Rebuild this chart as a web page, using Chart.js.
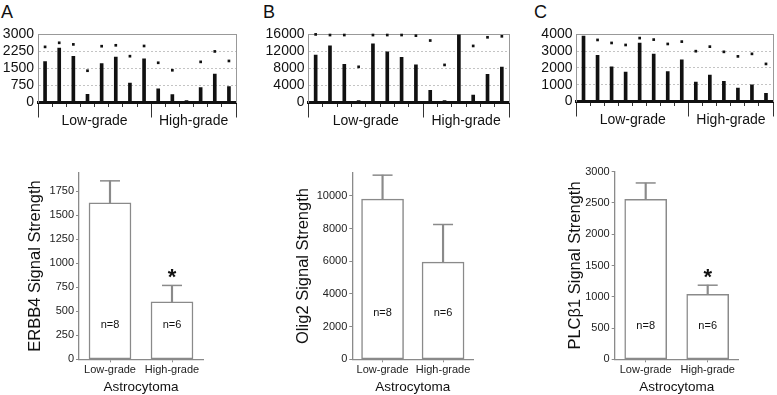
<!DOCTYPE html>
<html><head><meta charset="utf-8">
<script src="https://cdn.jsdelivr.net/npm/chart.js@4.4.0/dist/chart.umd.min.js"></script>
<style>
html,body{margin:0;padding:0;background:#fff;}
body{width:777px;height:395px;position:relative;overflow:hidden;font-family:'Liberation Sans',Arial,sans-serif;}
canvas{position:absolute;}
.lbl{position:absolute;font-size:18px;line-height:18px;color:#111;}
</style></head><body>
<div class="lbl" style="left:1px;top:3px">A</div>
<div class="lbl" style="left:263px;top:3px">B</div>
<div class="lbl" style="left:534px;top:3px">C</div>
<canvas id="topA"></canvas>
<canvas id="topB"></canvas>
<canvas id="topC"></canvas>
<canvas id="botA"></canvas>
<canvas id="botB"></canvas>
<canvas id="botC"></canvas>
<script>
// ---- data ----
const samples = ['1','2','3','4','5','6','7','8','9','10','11','12','13','14'];
const lowGradeCount = 8;
const groupLabels = ['Low-grade', 'High-grade'];

const erbb4Signal = [1800, 2400, 2030, 360, 1720, 2000, 860, 1920, 600, 350, 90, 660, 1250, 700];
const erbb4Dots   = [2450, 2630, 2560, 1400, 2480, 2520, 2040, 2490, 1750, 1420, null, 1790, 2250, 1830];
const erbb4Ticks  = [0, 750, 1500, 2250, 3000];

const olig2Signal = [11160, 13290, 8990, 450, 13810, 11930, 10640, 8830, 2870, 450, 16000, 1740, 6640, 8310];
const olig2Dots   = [16000, 15850, 15850, 8380, 15850, 15850, 15850, 15700, 14560, 8830, null, 13290, 15320, 15550];
const olig2Ticks  = [0, 4000, 8000, 12000, 16000];

const plcSignal = [3900, 2750, 2060, 1760, 3490, 2820, 1780, 2490, 1160, 1570, 1200, 800, 1000, 490];
const plcDots   = [null, 3670, 3490, 3370, 3780, 3690, 3430, 3570, 3000, 3270, 2960, 2690, 2840, 2240];
const plcTicks  = [0, 1000, 2000, 3000, 4000];

const gradeCategories = ['Low-grade', 'High-grade'];
const sampleCounts = [8, 6];
const erbb4Mean = [1630, 600];
const erbb4ErrTop = [1860, 770];
const erbb4Significant = [false, true];
const erbb4BarTicks = [0, 250, 500, 750, 1000, 1250, 1500, 1750];
const olig2Mean = [9800, 5950];
const olig2ErrTop = [11270, 8250];
const olig2Significant = [false, false];
const olig2BarTicks = [0, 2000, 4000, 6000, 8000, 10000];
const plcMean = [2560, 1040];
const plcErrTop = [2820, 1185];
const plcSignificant = [false, true];
const plcBarTicks = [0, 500, 1000, 1500, 2000, 2500, 3000];

// ---- drawing ----
const FAM = "'Liberation Sans', Arial, sans-serif";
Chart.defaults.font.family = FAM;

function place(id, L, T, W, H) {
  const c = document.getElementById(id);
  c.width = W; c.height = H;
  c.style.left = L + 'px'; c.style.top = T + 'px';
  c.style.width = W + 'px'; c.style.height = H + 'px';
  return c;
}

function topChart(id, box, area, values, dots, ticks) {
  const c = place(id, box.L, box.T, box.W, box.H);
  const yMax = ticks[ticks.length - 1];
  const half = (area.r - area.l) / samples.length / 2;
  new Chart(c, {
    type: 'bar',
    data: {
      labels: samples,
      datasets: [
        { type: 'bar', data: values, backgroundColor: '#111', barThickness: 3, order: 2 },
        { type: 'line', data: dots, showLine: false, pointStyle: 'rect', pointRadius: 1.9,
          pointBackgroundColor: '#111', pointBorderWidth: 0, clip: false, order: 1 }
      ]
    },
    options: {
      responsive: false, animation: false, events: [],
      layout: { padding: { top: area.t - box.T, right: box.L + box.W - area.r, left: 0, bottom: 0 } },
      plugins: { legend: { display: false }, tooltip: { enabled: false } },
      scales: {
        x: {
          type: 'category', position: 'bottom', offset: true,
          grid: {
            offset: true, drawOnChartArea: false, drawTicks: true, tickLength: 15,
            tickColor: '#333', tickWidth: 1,
            tickBorderDash: (ctx) => (ctx.index === undefined || ctx.index === 0 || ctx.index === lowGradeCount) ? [] : [3, 100]
          },
          border: { display: true, color: '#111', width: 3 },
          ticks: {
            autoSkip: false, maxRotation: 0, minRotation: 0, padding: -5, labelOffset: half,
            font: { size: 14 }, color: '#111',
            callback: (v, i) => i === Math.floor((lowGradeCount - 1) / 2) ? groupLabels[0]
              : (i === Math.floor((lowGradeCount + samples.length - 1) / 2) ? groupLabels[1] : '')
          },
          afterFit: (s) => { s.height = box.T + box.H - area.b; }
        },
        xTop: {
          type: 'category', position: 'top',
          grid: { display: false, drawTicks: false }, ticks: { display: false },
          border: { display: true, color: '#999', width: 1 },
          afterFit: (s) => { s.height = 0; }
        },
        y: {
          min: 0, max: yMax,
          afterBuildTicks: (s) => { s.ticks = ticks.map(v => ({ value: v })); },
          ticks: { autoSkip: false, padding: 4, font: { size: 14 }, color: '#111', callback: (v) => String(v) },
          grid: { color: '#c4c4c4', drawTicks: false, lineWidth: 1 },
          border: { display: true, color: '#999', width: 1, dash: [2, 2] },
          afterFit: (s) => { s.width = area.l - box.L; }
        },
        yRight: {
          position: 'right', min: 0, max: yMax,
          grid: { display: false, drawTicks: false }, ticks: { display: false },
          border: { display: true, color: '#999', width: 1 },
          afterFit: (s) => { s.width = 0; }
        }
      }
    }
  });
}

const annotate = {
  id: 'annot',
  afterDatasetsDraw(chart, args, o) {
    if (!o || !o.counts) return;
    const { ctx, scales: { x, y } } = chart;
    ctx.save();
    ctx.fillStyle = '#111';
    ctx.textAlign = 'center';
    o.counts.forEach((n, i) => {
      ctx.font = '11px ' + FAM;
      ctx.textBaseline = 'middle';
      ctx.fillText('n=' + n, x.getPixelForValue(i), y.getPixelForValue(o.nY));
    });
    o.stars.forEach((s, i) => {
      if (!s) return;
      ctx.font = 'bold 22px ' + FAM;
      ctx.textBaseline = 'alphabetic';
      ctx.fillText('*', x.getPixelForValue(i), y.getPixelForValue(o.errTops[i]) - 1.5);
    });
    ctx.restore();
  }
};

function bottomChart(id, box, area, cfg) {
  const c = place(id, box.L, box.T, box.W, box.H);
  const gray = '#8a8a8a';
  const titleSize = 16.5;
  new Chart(c, {
    type: 'bar',
    data: {
      labels: gradeCategories,
      datasets: [
        { type: 'bar', data: cfg.mean, backgroundColor: '#fff', borderColor: gray, borderWidth: 1.5,
          borderSkipped: false, barThickness: 42, grouped: false, order: 3 },
        { type: 'bar', data: cfg.mean.map((m, i) => [m, cfg.errTop[i]]), backgroundColor: gray,
          borderWidth: 0, barThickness: 1.5, grouped: false, order: 2 },
        { type: 'line', data: cfg.errTop, showLine: false, pointStyle: 'line', pointRadius: 10,
          pointBorderColor: gray, pointBorderWidth: 1.5, clip: false, order: 1 }
      ]
    },
    options: {
      responsive: false, animation: false, events: [],
      layout: { padding: { top: area.t - box.T, right: box.L + box.W - area.r, left: 0, bottom: 0 } },
      plugins: {
        legend: { display: false }, tooltip: { enabled: false },
        annot: { counts: sampleCounts, nY: cfg.nY, stars: cfg.significant, errTops: cfg.errTop }
      },
      scales: {
        x: {
          offset: true,
          grid: { offset: false, drawOnChartArea: false, drawTicks: true, tickLength: 3, tickColor: gray },
          border: { display: true, color: gray, width: 1.3 },
          ticks: { padding: 1, font: { size: 11 }, color: '#222' },
          title: { display: true, text: 'Astrocytoma', font: { size: 13.5 }, color: '#111', padding: { top: 0, bottom: 0 } },
          afterFit: (s) => { s.height = box.T + box.H - area.b; }
        },
        y: {
          min: 0, max: cfg.yMax,
          afterBuildTicks: (s) => { s.ticks = cfg.ticks.map(v => ({ value: v })); },
          ticks: { autoSkip: false, padding: 2, font: { size: 11 }, color: '#222', callback: (v) => String(v) },
          grid: { drawOnChartArea: false, drawTicks: true, tickLength: 3, tickColor: gray },
          border: { display: true, color: gray, width: 1.3 },
          title: { display: true, text: cfg.title, font: { size: titleSize }, color: '#111',
                   padding: { top: cfg.titleX - box.L - titleSize * 1.2 / 2, bottom: 0 } },
          afterFit: (s) => { s.width = area.l - box.L; }
        }
      }
    },
    plugins: [annotate]
  });
}

topChart('topA', { L: 0, T: 22, W: 246, H: 110 }, { l: 38, t: 32, r: 236, b: 102.5 }, erbb4Signal, erbb4Dots, erbb4Ticks);
topChart('topB', { L: 258, T: 22, W: 258, H: 110 }, { l: 308.5, t: 32, r: 509, b: 102.5 }, olig2Signal, olig2Dots, olig2Ticks);
topChart('topC', { L: 528, T: 22, W: 249, H: 110 }, { l: 576.5, t: 32, r: 776, b: 101.5 }, plcSignal, plcDots, plcTicks);

bottomChart('botA', { L: 0, T: 160, W: 250, H: 235 }, { l: 79, t: 172.7, r: 203, b: 359.3 },
  { mean: erbb4Mean, errTop: erbb4ErrTop, significant: erbb4Significant, yMax: 1945, ticks: erbb4BarTicks,
    title: 'ERBB4 Signal Strength', titleX: 35, nY: 360 });
bottomChart('botB', { L: 258, T: 160, W: 250, H: 235 }, { l: 352.3, t: 172.7, r: 473.3, b: 359.3 },
  { mean: olig2Mean, errTop: olig2ErrTop, significant: olig2Significant, yMax: 11420, ticks: olig2BarTicks,
    title: 'Olig2 Signal Strength', titleX: 303, nY: 2830 });
bottomChart('botC', { L: 517, T: 160, W: 260, H: 235 }, { l: 614.7, t: 171.7, r: 738.7, b: 359.3 },
  { mean: plcMean, errTop: plcErrTop, significant: plcSignificant, yMax: 3000, ticks: plcBarTicks,
    title: 'PLCβ1 Signal Strength', titleX: 575, nY: 540 });
</script>
</body></html>
